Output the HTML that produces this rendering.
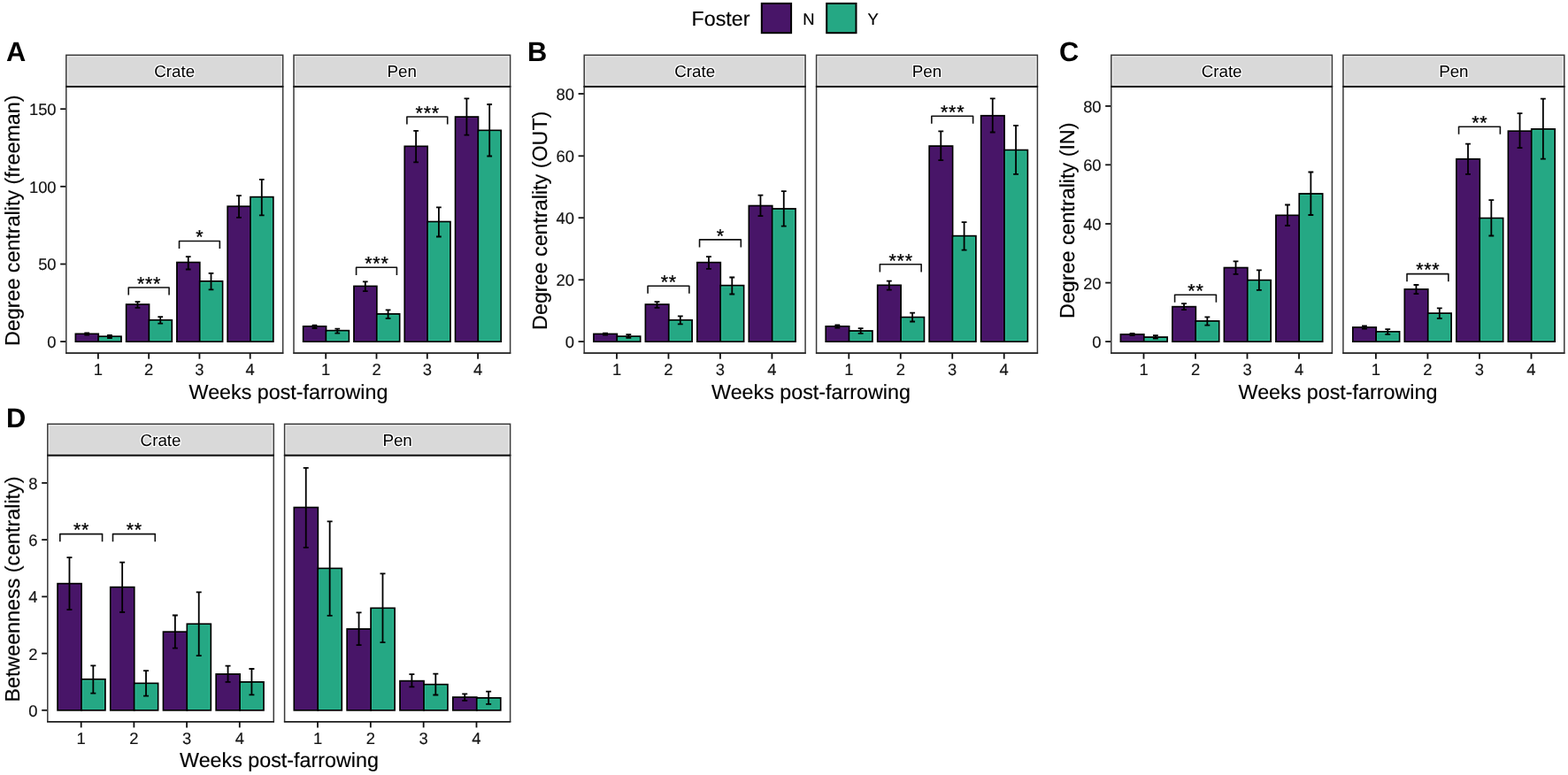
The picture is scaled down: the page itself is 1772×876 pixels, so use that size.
<!DOCTYPE html>
<html lang="en">
<head>
<meta charset="utf-8">
<title>Foster centrality figure</title>
<style>
html,body{margin:0;padding:0;background:#fff;}
body{width:1772px;height:876px;overflow:hidden;}
svg{display:block;}
text{white-space:pre;text-rendering:geometricPrecision;}
</style>
</head>
<body>
<svg width="1772" height="876" viewBox="0 0 1772 876" font-family='"Liberation Sans", sans-serif'>
<rect width="1772" height="876" fill="#ffffff"/>
<g id="legend">
<text x="781.5" y="29.3" font-size="23.3" fill="#000" stroke="#000" stroke-width="0.15">Foster</text>
<rect x="860.8" y="3.9" width="33.3" height="33.3" fill="#481568" stroke="#000" stroke-width="2"/>
<text x="907.3" y="27.8" font-size="18.4" fill="#000" stroke="#000" stroke-width="0.15">N</text>
<rect x="934.2" y="3.9" width="33.3" height="33.3" fill="#25A884" stroke="#000" stroke-width="2"/>
<text x="980.4" y="27.8" font-size="18.4" fill="#000" stroke="#000" stroke-width="0.15">Y</text>
</g>
<g id="panel-A">
<text transform="translate(6.9 68.8) scale(1 1)" font-size="30.8" font-weight="bold" fill="#000">A</text>
<text transform="translate(22 249.25) rotate(-90)" text-anchor="middle" font-size="23.3" fill="#000" stroke="#000" stroke-width="0.15">Degree centrality (freeman)</text>
<line x1="68.2" x2="74.8" y1="386.1" y2="386.1" stroke="#111111" stroke-width="1.8"/>
<text x="63.6" y="393" text-anchor="end" font-size="18.4" fill="#141414" stroke="#141414" stroke-width="0.15">0</text>
<line x1="68.2" x2="74.8" y1="298.5" y2="298.5" stroke="#111111" stroke-width="1.8"/>
<text x="63.6" y="305.4" text-anchor="end" font-size="18.4" fill="#141414" stroke="#141414" stroke-width="0.15">50</text>
<line x1="68.2" x2="74.8" y1="210.8" y2="210.8" stroke="#111111" stroke-width="1.8"/>
<text x="63.6" y="217.7" text-anchor="end" font-size="18.4" fill="#141414" stroke="#141414" stroke-width="0.15">100</text>
<line x1="68.2" x2="74.8" y1="123.2" y2="123.2" stroke="#111111" stroke-width="1.8"/>
<text x="63.6" y="130.1" text-anchor="end" font-size="18.4" fill="#141414" stroke="#141414" stroke-width="0.15">150</text>
<text x="326" y="450.7" text-anchor="middle" font-size="23.3" fill="#000" stroke="#000" stroke-width="0.15">Weeks post-farrowing</text>
<g id="A-Crate">
<rect x="74.8" y="62.3" width="244.9" height="35.2" fill="#d9d9d9" stroke="#3a3a3a" stroke-width="1.5"/>
<rect x="76.4" y="63.9" width="241.7" height="32.1" fill="none" stroke="#ededed" stroke-width="1"/>
<text x="197.25" y="87.05" text-anchor="middle" font-size="18.8" fill="#000" stroke="#fff" stroke-opacity="0.92" stroke-width="2.6" stroke-linejoin="round" paint-order="stroke">Crate</text>
<rect x="74.8" y="97.8" width="244.9" height="301.3" fill="#fff" stroke="none"/>
<rect x="85.43" y="377.4" width="25.77" height="8.7" fill="#481568" stroke="#000" stroke-width="1.8"/>
<rect x="86.88" y="378.85" width="22.87" height="5.8" fill="none" stroke="#541a78" stroke-opacity="0.75" stroke-width="0.9"/>
<rect x="111.2" y="380.3" width="25.77" height="5.8" fill="#25A884" stroke="#000" stroke-width="1.8"/>
<rect x="112.65" y="381.75" width="22.87" height="2.9" fill="none" stroke="#2cc49a" stroke-opacity="0.75" stroke-width="0.9"/>
<rect x="142.7" y="344.1" width="25.77" height="42" fill="#481568" stroke="#000" stroke-width="1.8"/>
<rect x="144.15" y="345.55" width="22.87" height="39.1" fill="none" stroke="#541a78" stroke-opacity="0.75" stroke-width="0.9"/>
<rect x="168.47" y="361.8" width="25.77" height="24.3" fill="#25A884" stroke="#000" stroke-width="1.8"/>
<rect x="169.92" y="363.25" width="22.87" height="21.4" fill="none" stroke="#2cc49a" stroke-opacity="0.75" stroke-width="0.9"/>
<rect x="199.97" y="296.6" width="25.77" height="89.5" fill="#481568" stroke="#000" stroke-width="1.8"/>
<rect x="201.42" y="298.05" width="22.87" height="86.6" fill="none" stroke="#541a78" stroke-opacity="0.75" stroke-width="0.9"/>
<rect x="225.74" y="317.9" width="25.77" height="68.2" fill="#25A884" stroke="#000" stroke-width="1.8"/>
<rect x="227.19" y="319.35" width="22.87" height="65.3" fill="none" stroke="#2cc49a" stroke-opacity="0.75" stroke-width="0.9"/>
<rect x="257.24" y="233.3" width="25.77" height="152.8" fill="#481568" stroke="#000" stroke-width="1.8"/>
<rect x="258.69" y="234.75" width="22.87" height="149.9" fill="none" stroke="#541a78" stroke-opacity="0.75" stroke-width="0.9"/>
<rect x="283.01" y="222.7" width="25.77" height="163.4" fill="#25A884" stroke="#000" stroke-width="1.8"/>
<rect x="284.46" y="224.15" width="22.87" height="160.5" fill="none" stroke="#2cc49a" stroke-opacity="0.75" stroke-width="0.9"/>
<path d="M95.35 376.5H101.08M98.21 376.5V378.7M95.35 378.7H101.08" fill="none" stroke="#000" stroke-width="1.8"/>
<path d="M121.12 379H126.85M123.99 379V382M121.12 382H126.85" fill="none" stroke="#000" stroke-width="1.8"/>
<path d="M152.62 341.1H158.35M155.48 341.1V347.8M152.62 347.8H158.35" fill="none" stroke="#000" stroke-width="1.8"/>
<path d="M178.39 358.2H184.12M181.26 358.2V365.6M178.39 365.6H184.12" fill="none" stroke="#000" stroke-width="1.8"/>
<path d="M209.89 290.1H215.62M212.75 290.1V304.5M209.89 304.5H215.62" fill="none" stroke="#000" stroke-width="1.8"/>
<path d="M235.66 308.9H241.39M238.53 308.9V327.3M235.66 327.3H241.39" fill="none" stroke="#000" stroke-width="1.8"/>
<path d="M267.16 221.1H272.89M270.02 221.1V245.8M267.16 245.8H272.89" fill="none" stroke="#000" stroke-width="1.8"/>
<path d="M292.93 202.9H298.66M295.8 202.9V243.3M292.93 243.3H298.66" fill="none" stroke="#000" stroke-width="1.8"/>
<path d="M145.26 333.6V325H191.08V333.6" fill="none" stroke="#111" stroke-width="1.6" stroke-linejoin="round"/>
<text x="168.57" y="327.7" text-anchor="middle" font-size="21.5" fill="#000" stroke="#000" stroke-width="0.3" letter-spacing="0.75">***</text>
<path d="M202.53 281.1V272.5H248.35V281.1" fill="none" stroke="#111" stroke-width="1.6" stroke-linejoin="round"/>
<text x="225.84" y="275.2" text-anchor="middle" font-size="21.5" fill="#000" stroke="#000" stroke-width="0.3" letter-spacing="0.75">*</text>
<rect x="74.8" y="98.1" width="244.9" height="301" fill="none" stroke="#3a3a3a" stroke-width="1.5"/>
<line x1="74.1" x2="320.4" y1="97.8" y2="97.8" stroke="#181818" stroke-width="1.7"/>
<line x1="74.1" x2="320.4" y1="399.1" y2="399.1" stroke="#1c1c1c" stroke-width="1.4"/>
<line x1="110.9" x2="110.9" y1="399.1" y2="405.7" stroke="#111111" stroke-width="1.8"/>
<text x="110.9" y="423.8" text-anchor="middle" font-size="18.4" fill="#141414" stroke="#141414" stroke-width="0.15">1</text>
<line x1="168.17" x2="168.17" y1="399.1" y2="405.7" stroke="#111111" stroke-width="1.8"/>
<text x="168.17" y="423.8" text-anchor="middle" font-size="18.4" fill="#141414" stroke="#141414" stroke-width="0.15">2</text>
<line x1="225.44" x2="225.44" y1="399.1" y2="405.7" stroke="#111111" stroke-width="1.8"/>
<text x="225.44" y="423.8" text-anchor="middle" font-size="18.4" fill="#141414" stroke="#141414" stroke-width="0.15">3</text>
<line x1="282.71" x2="282.71" y1="399.1" y2="405.7" stroke="#111111" stroke-width="1.8"/>
<text x="282.71" y="423.8" text-anchor="middle" font-size="18.4" fill="#141414" stroke="#141414" stroke-width="0.15">4</text>
</g>
<g id="A-Pen">
<rect x="332" y="62.3" width="244.6" height="35.2" fill="#d9d9d9" stroke="#3a3a3a" stroke-width="1.5"/>
<rect x="333.6" y="63.9" width="241.4" height="32.1" fill="none" stroke="#ededed" stroke-width="1"/>
<text x="454.3" y="87.05" text-anchor="middle" font-size="18.8" fill="#000" stroke="#fff" stroke-opacity="0.92" stroke-width="2.6" stroke-linejoin="round" paint-order="stroke">Pen</text>
<rect x="332" y="97.8" width="244.6" height="301.3" fill="#fff" stroke="none"/>
<rect x="342.71" y="368.9" width="25.79" height="17.2" fill="#481568" stroke="#000" stroke-width="1.8"/>
<rect x="344.16" y="370.35" width="22.89" height="14.3" fill="none" stroke="#541a78" stroke-opacity="0.75" stroke-width="0.9"/>
<rect x="368.5" y="373.7" width="25.79" height="12.4" fill="#25A884" stroke="#000" stroke-width="1.8"/>
<rect x="369.95" y="375.15" width="22.89" height="9.5" fill="none" stroke="#2cc49a" stroke-opacity="0.75" stroke-width="0.9"/>
<rect x="400.01" y="323.5" width="25.79" height="62.6" fill="#481568" stroke="#000" stroke-width="1.8"/>
<rect x="401.46" y="324.95" width="22.89" height="59.7" fill="none" stroke="#541a78" stroke-opacity="0.75" stroke-width="0.9"/>
<rect x="425.8" y="354.9" width="25.79" height="31.2" fill="#25A884" stroke="#000" stroke-width="1.8"/>
<rect x="427.25" y="356.35" width="22.89" height="28.3" fill="none" stroke="#2cc49a" stroke-opacity="0.75" stroke-width="0.9"/>
<rect x="457.31" y="165.4" width="25.79" height="220.7" fill="#481568" stroke="#000" stroke-width="1.8"/>
<rect x="458.76" y="166.85" width="22.89" height="217.8" fill="none" stroke="#541a78" stroke-opacity="0.75" stroke-width="0.9"/>
<rect x="483.1" y="250.6" width="25.79" height="135.5" fill="#25A884" stroke="#000" stroke-width="1.8"/>
<rect x="484.55" y="252.05" width="22.89" height="132.6" fill="none" stroke="#2cc49a" stroke-opacity="0.75" stroke-width="0.9"/>
<rect x="514.61" y="132.1" width="25.79" height="254" fill="#481568" stroke="#000" stroke-width="1.8"/>
<rect x="516.06" y="133.55" width="22.89" height="251.1" fill="none" stroke="#541a78" stroke-opacity="0.75" stroke-width="0.9"/>
<rect x="540.4" y="147.4" width="25.79" height="238.7" fill="#25A884" stroke="#000" stroke-width="1.8"/>
<rect x="541.85" y="148.85" width="22.89" height="235.8" fill="none" stroke="#2cc49a" stroke-opacity="0.75" stroke-width="0.9"/>
<path d="M352.64 367.7H358.37M355.51 367.7V371M352.64 371H358.37" fill="none" stroke="#000" stroke-width="1.8"/>
<path d="M378.43 371.6H384.16M381.29 371.6V376.6M378.43 376.6H384.16" fill="none" stroke="#000" stroke-width="1.8"/>
<path d="M409.94 318.4H415.67M412.81 318.4V329.1M409.94 329.1H415.67" fill="none" stroke="#000" stroke-width="1.8"/>
<path d="M435.73 350.3H441.46M438.59 350.3V359.9M435.73 359.9H441.46" fill="none" stroke="#000" stroke-width="1.8"/>
<path d="M467.24 147.9H472.97M470.11 147.9V183.4M467.24 183.4H472.97" fill="none" stroke="#000" stroke-width="1.8"/>
<path d="M493.03 234.3H498.76M495.89 234.3V267.5M493.03 267.5H498.76" fill="none" stroke="#000" stroke-width="1.8"/>
<path d="M524.54 111.4H530.27M527.41 111.4V152.6M524.54 152.6H530.27" fill="none" stroke="#000" stroke-width="1.8"/>
<path d="M550.33 118H556.06M553.19 118V176.5M550.33 176.5H556.06" fill="none" stroke="#000" stroke-width="1.8"/>
<path d="M402.58 310.9V302.3H448.42V310.9" fill="none" stroke="#111" stroke-width="1.6" stroke-linejoin="round"/>
<text x="425.9" y="305" text-anchor="middle" font-size="21.5" fill="#000" stroke="#000" stroke-width="0.3" letter-spacing="0.75">***</text>
<path d="M459.88 140.6V132H505.72V140.6" fill="none" stroke="#111" stroke-width="1.6" stroke-linejoin="round"/>
<text x="483.2" y="134.7" text-anchor="middle" font-size="21.5" fill="#000" stroke="#000" stroke-width="0.3" letter-spacing="0.75">***</text>
<rect x="332" y="98.1" width="244.6" height="301" fill="none" stroke="#3a3a3a" stroke-width="1.5"/>
<line x1="331.3" x2="577.3" y1="97.8" y2="97.8" stroke="#181818" stroke-width="1.7"/>
<line x1="331.3" x2="577.3" y1="399.1" y2="399.1" stroke="#1c1c1c" stroke-width="1.4"/>
<line x1="368.2" x2="368.2" y1="399.1" y2="405.7" stroke="#111111" stroke-width="1.8"/>
<text x="368.2" y="423.8" text-anchor="middle" font-size="18.4" fill="#141414" stroke="#141414" stroke-width="0.15">1</text>
<line x1="425.5" x2="425.5" y1="399.1" y2="405.7" stroke="#111111" stroke-width="1.8"/>
<text x="425.5" y="423.8" text-anchor="middle" font-size="18.4" fill="#141414" stroke="#141414" stroke-width="0.15">2</text>
<line x1="482.8" x2="482.8" y1="399.1" y2="405.7" stroke="#111111" stroke-width="1.8"/>
<text x="482.8" y="423.8" text-anchor="middle" font-size="18.4" fill="#141414" stroke="#141414" stroke-width="0.15">3</text>
<line x1="540.1" x2="540.1" y1="399.1" y2="405.7" stroke="#111111" stroke-width="1.8"/>
<text x="540.1" y="423.8" text-anchor="middle" font-size="18.4" fill="#141414" stroke="#141414" stroke-width="0.15">4</text>
</g>
</g>
<g id="panel-B">
<text transform="translate(596 68.6) scale(1 1)" font-size="30.8" font-weight="bold" fill="#000">B</text>
<text transform="translate(617.6 249.25) rotate(-90)" text-anchor="middle" font-size="23.3" fill="#000" stroke="#000" stroke-width="0.15">Degree centrality (OUT)</text>
<line x1="653.6" x2="660.2" y1="386.1" y2="386.1" stroke="#111111" stroke-width="1.8"/>
<text x="649" y="393" text-anchor="end" font-size="18.4" fill="#141414" stroke="#141414" stroke-width="0.15">0</text>
<line x1="653.6" x2="660.2" y1="316.3" y2="316.3" stroke="#111111" stroke-width="1.8"/>
<text x="649" y="323.2" text-anchor="end" font-size="18.4" fill="#141414" stroke="#141414" stroke-width="0.15">20</text>
<line x1="653.6" x2="660.2" y1="246.2" y2="246.2" stroke="#111111" stroke-width="1.8"/>
<text x="649" y="253.1" text-anchor="end" font-size="18.4" fill="#141414" stroke="#141414" stroke-width="0.15">40</text>
<line x1="653.6" x2="660.2" y1="176.3" y2="176.3" stroke="#111111" stroke-width="1.8"/>
<text x="649" y="183.2" text-anchor="end" font-size="18.4" fill="#141414" stroke="#141414" stroke-width="0.15">60</text>
<line x1="653.6" x2="660.2" y1="106" y2="106" stroke="#111111" stroke-width="1.8"/>
<text x="649" y="112.9" text-anchor="end" font-size="18.4" fill="#141414" stroke="#141414" stroke-width="0.15">80</text>
<text x="916.5" y="450.7" text-anchor="middle" font-size="23.3" fill="#000" stroke="#000" stroke-width="0.15">Weeks post-farrowing</text>
<g id="B-Crate">
<rect x="660.2" y="62.3" width="249.9" height="35.2" fill="#d9d9d9" stroke="#3a3a3a" stroke-width="1.5"/>
<rect x="661.8" y="63.9" width="246.7" height="32.1" fill="none" stroke="#ededed" stroke-width="1"/>
<text x="785.15" y="87.05" text-anchor="middle" font-size="18.8" fill="#000" stroke="#fff" stroke-opacity="0.92" stroke-width="2.6" stroke-linejoin="round" paint-order="stroke">Crate</text>
<rect x="660.2" y="97.8" width="249.9" height="301.3" fill="#fff" stroke="none"/>
<rect x="670.99" y="377.5" width="26.31" height="8.6" fill="#481568" stroke="#000" stroke-width="1.8"/>
<rect x="672.44" y="378.95" width="23.41" height="5.7" fill="none" stroke="#541a78" stroke-opacity="0.75" stroke-width="0.9"/>
<rect x="697.3" y="380.2" width="26.31" height="5.9" fill="#25A884" stroke="#000" stroke-width="1.8"/>
<rect x="698.75" y="381.65" width="23.41" height="3" fill="none" stroke="#2cc49a" stroke-opacity="0.75" stroke-width="0.9"/>
<rect x="729.46" y="344.1" width="26.31" height="42" fill="#481568" stroke="#000" stroke-width="1.8"/>
<rect x="730.91" y="345.55" width="23.41" height="39.1" fill="none" stroke="#541a78" stroke-opacity="0.75" stroke-width="0.9"/>
<rect x="755.77" y="361.8" width="26.31" height="24.3" fill="#25A884" stroke="#000" stroke-width="1.8"/>
<rect x="757.22" y="363.25" width="23.41" height="21.4" fill="none" stroke="#2cc49a" stroke-opacity="0.75" stroke-width="0.9"/>
<rect x="787.93" y="296.7" width="26.31" height="89.4" fill="#481568" stroke="#000" stroke-width="1.8"/>
<rect x="789.38" y="298.15" width="23.41" height="86.5" fill="none" stroke="#541a78" stroke-opacity="0.75" stroke-width="0.9"/>
<rect x="814.24" y="322.7" width="26.31" height="63.4" fill="#25A884" stroke="#000" stroke-width="1.8"/>
<rect x="815.69" y="324.15" width="23.41" height="60.5" fill="none" stroke="#2cc49a" stroke-opacity="0.75" stroke-width="0.9"/>
<rect x="846.4" y="232.6" width="26.31" height="153.5" fill="#481568" stroke="#000" stroke-width="1.8"/>
<rect x="847.85" y="234.05" width="23.41" height="150.6" fill="none" stroke="#541a78" stroke-opacity="0.75" stroke-width="0.9"/>
<rect x="872.71" y="236" width="26.31" height="150.1" fill="#25A884" stroke="#000" stroke-width="1.8"/>
<rect x="874.16" y="237.45" width="23.41" height="147.2" fill="none" stroke="#2cc49a" stroke-opacity="0.75" stroke-width="0.9"/>
<path d="M681.12 376.7H686.97M684.04 376.7V378.6M681.12 378.6H686.97" fill="none" stroke="#000" stroke-width="1.8"/>
<path d="M707.43 378.1H713.28M710.36 378.1V381.8M707.43 381.8H713.28" fill="none" stroke="#000" stroke-width="1.8"/>
<path d="M739.59 341.1H745.44M742.51 341.1V347.8M739.59 347.8H745.44" fill="none" stroke="#000" stroke-width="1.8"/>
<path d="M765.9 357.3H771.75M768.83 357.3V366.4M765.9 366.4H771.75" fill="none" stroke="#000" stroke-width="1.8"/>
<path d="M798.06 290.1H803.91M800.98 290.1V303.8M798.06 303.8H803.91" fill="none" stroke="#000" stroke-width="1.8"/>
<path d="M824.37 313.5H830.22M827.3 313.5V332.5M824.37 332.5H830.22" fill="none" stroke="#000" stroke-width="1.8"/>
<path d="M856.53 220.7H862.38M859.45 220.7V244.2M856.53 244.2H862.38" fill="none" stroke="#000" stroke-width="1.8"/>
<path d="M882.84 216.1H888.69M885.77 216.1V255.6M882.84 255.6H888.69" fill="none" stroke="#000" stroke-width="1.8"/>
<path d="M732.08 331.8V323.2H778.86V331.8" fill="none" stroke="#111" stroke-width="1.6" stroke-linejoin="round"/>
<text x="755.87" y="325.9" text-anchor="middle" font-size="21.5" fill="#000" stroke="#000" stroke-width="0.3" letter-spacing="0.75">**</text>
<path d="M790.55 279.5V270.9H837.33V279.5" fill="none" stroke="#111" stroke-width="1.6" stroke-linejoin="round"/>
<text x="814.34" y="273.6" text-anchor="middle" font-size="21.5" fill="#000" stroke="#000" stroke-width="0.3" letter-spacing="0.75">*</text>
<rect x="660.2" y="98.1" width="249.9" height="301" fill="none" stroke="#3a3a3a" stroke-width="1.5"/>
<line x1="659.5" x2="910.8" y1="97.8" y2="97.8" stroke="#181818" stroke-width="1.7"/>
<line x1="659.5" x2="910.8" y1="399.1" y2="399.1" stroke="#1c1c1c" stroke-width="1.4"/>
<line x1="697" x2="697" y1="399.1" y2="405.7" stroke="#111111" stroke-width="1.8"/>
<text x="697" y="423.8" text-anchor="middle" font-size="18.4" fill="#141414" stroke="#141414" stroke-width="0.15">1</text>
<line x1="755.47" x2="755.47" y1="399.1" y2="405.7" stroke="#111111" stroke-width="1.8"/>
<text x="755.47" y="423.8" text-anchor="middle" font-size="18.4" fill="#141414" stroke="#141414" stroke-width="0.15">2</text>
<line x1="813.94" x2="813.94" y1="399.1" y2="405.7" stroke="#111111" stroke-width="1.8"/>
<text x="813.94" y="423.8" text-anchor="middle" font-size="18.4" fill="#141414" stroke="#141414" stroke-width="0.15">3</text>
<line x1="872.41" x2="872.41" y1="399.1" y2="405.7" stroke="#111111" stroke-width="1.8"/>
<text x="872.41" y="423.8" text-anchor="middle" font-size="18.4" fill="#141414" stroke="#141414" stroke-width="0.15">4</text>
</g>
<g id="B-Pen">
<rect x="922.6" y="62.3" width="249.8" height="35.2" fill="#d9d9d9" stroke="#3a3a3a" stroke-width="1.5"/>
<rect x="924.2" y="63.9" width="246.6" height="32.1" fill="none" stroke="#ededed" stroke-width="1"/>
<text x="1047.5" y="87.05" text-anchor="middle" font-size="18.8" fill="#000" stroke="#fff" stroke-opacity="0.92" stroke-width="2.6" stroke-linejoin="round" paint-order="stroke">Pen</text>
<rect x="922.6" y="97.8" width="249.8" height="301.3" fill="#fff" stroke="none"/>
<rect x="933.29" y="368.9" width="26.31" height="17.2" fill="#481568" stroke="#000" stroke-width="1.8"/>
<rect x="934.74" y="370.35" width="23.41" height="14.3" fill="none" stroke="#541a78" stroke-opacity="0.75" stroke-width="0.9"/>
<rect x="959.6" y="374" width="26.31" height="12.1" fill="#25A884" stroke="#000" stroke-width="1.8"/>
<rect x="961.05" y="375.45" width="23.41" height="9.2" fill="none" stroke="#2cc49a" stroke-opacity="0.75" stroke-width="0.9"/>
<rect x="991.76" y="322.4" width="26.31" height="63.7" fill="#481568" stroke="#000" stroke-width="1.8"/>
<rect x="993.21" y="323.85" width="23.41" height="60.8" fill="none" stroke="#541a78" stroke-opacity="0.75" stroke-width="0.9"/>
<rect x="1018.07" y="358.6" width="26.31" height="27.5" fill="#25A884" stroke="#000" stroke-width="1.8"/>
<rect x="1019.52" y="360.05" width="23.41" height="24.6" fill="none" stroke="#2cc49a" stroke-opacity="0.75" stroke-width="0.9"/>
<rect x="1050.23" y="165.1" width="26.31" height="221" fill="#481568" stroke="#000" stroke-width="1.8"/>
<rect x="1051.68" y="166.55" width="23.41" height="218.1" fill="none" stroke="#541a78" stroke-opacity="0.75" stroke-width="0.9"/>
<rect x="1076.54" y="266.7" width="26.31" height="119.4" fill="#25A884" stroke="#000" stroke-width="1.8"/>
<rect x="1077.99" y="268.15" width="23.41" height="116.5" fill="none" stroke="#2cc49a" stroke-opacity="0.75" stroke-width="0.9"/>
<rect x="1108.7" y="130.8" width="26.31" height="255.3" fill="#481568" stroke="#000" stroke-width="1.8"/>
<rect x="1110.15" y="132.25" width="23.41" height="252.4" fill="none" stroke="#541a78" stroke-opacity="0.75" stroke-width="0.9"/>
<rect x="1135.01" y="169.6" width="26.31" height="216.5" fill="#25A884" stroke="#000" stroke-width="1.8"/>
<rect x="1136.46" y="171.05" width="23.41" height="213.6" fill="none" stroke="#2cc49a" stroke-opacity="0.75" stroke-width="0.9"/>
<path d="M943.42 367.4H949.27M946.34 367.4V370.7M943.42 370.7H949.27" fill="none" stroke="#000" stroke-width="1.8"/>
<path d="M969.73 371.1H975.58M972.66 371.1V376.9M969.73 376.9H975.58" fill="none" stroke="#000" stroke-width="1.8"/>
<path d="M1001.89 317.6H1007.74M1004.81 317.6V327.6M1001.89 327.6H1007.74" fill="none" stroke="#000" stroke-width="1.8"/>
<path d="M1028.2 353.7H1034.05M1031.13 353.7V363.5M1028.2 363.5H1034.05" fill="none" stroke="#000" stroke-width="1.8"/>
<path d="M1060.36 148.4H1066.21M1063.28 148.4V181.1M1060.36 181.1H1066.21" fill="none" stroke="#000" stroke-width="1.8"/>
<path d="M1086.67 251.1H1092.52M1089.6 251.1V282.7M1086.67 282.7H1092.52" fill="none" stroke="#000" stroke-width="1.8"/>
<path d="M1118.83 111.4H1124.68M1121.75 111.4V149.5M1118.83 149.5H1124.68" fill="none" stroke="#000" stroke-width="1.8"/>
<path d="M1145.14 141.9H1150.99M1148.07 141.9V196.8M1145.14 196.8H1150.99" fill="none" stroke="#000" stroke-width="1.8"/>
<path d="M994.38 307.4V298.8H1041.16V307.4" fill="none" stroke="#111" stroke-width="1.6" stroke-linejoin="round"/>
<text x="1018.17" y="301.5" text-anchor="middle" font-size="21.5" fill="#000" stroke="#000" stroke-width="0.3" letter-spacing="0.75">***</text>
<path d="M1052.85 139.8V131.2H1099.63V139.8" fill="none" stroke="#111" stroke-width="1.6" stroke-linejoin="round"/>
<text x="1076.64" y="133.9" text-anchor="middle" font-size="21.5" fill="#000" stroke="#000" stroke-width="0.3" letter-spacing="0.75">***</text>
<rect x="922.6" y="98.1" width="249.8" height="301" fill="none" stroke="#3a3a3a" stroke-width="1.5"/>
<line x1="921.9" x2="1173.1" y1="97.8" y2="97.8" stroke="#181818" stroke-width="1.7"/>
<line x1="921.9" x2="1173.1" y1="399.1" y2="399.1" stroke="#1c1c1c" stroke-width="1.4"/>
<line x1="959.3" x2="959.3" y1="399.1" y2="405.7" stroke="#111111" stroke-width="1.8"/>
<text x="959.3" y="423.8" text-anchor="middle" font-size="18.4" fill="#141414" stroke="#141414" stroke-width="0.15">1</text>
<line x1="1017.77" x2="1017.77" y1="399.1" y2="405.7" stroke="#111111" stroke-width="1.8"/>
<text x="1017.77" y="423.8" text-anchor="middle" font-size="18.4" fill="#141414" stroke="#141414" stroke-width="0.15">2</text>
<line x1="1076.24" x2="1076.24" y1="399.1" y2="405.7" stroke="#111111" stroke-width="1.8"/>
<text x="1076.24" y="423.8" text-anchor="middle" font-size="18.4" fill="#141414" stroke="#141414" stroke-width="0.15">3</text>
<line x1="1134.71" x2="1134.71" y1="399.1" y2="405.7" stroke="#111111" stroke-width="1.8"/>
<text x="1134.71" y="423.8" text-anchor="middle" font-size="18.4" fill="#141414" stroke="#141414" stroke-width="0.15">4</text>
</g>
</g>
<g id="panel-C">
<text transform="translate(1196.9 69.1) scale(1 1)" font-size="30.8" font-weight="bold" fill="#000">C</text>
<text transform="translate(1213.6 249.25) rotate(-90)" text-anchor="middle" font-size="23.3" fill="#000" stroke="#000" stroke-width="0.15">Degree centrality (IN)</text>
<line x1="1249.2" x2="1255.8" y1="386.1" y2="386.1" stroke="#111111" stroke-width="1.8"/>
<text x="1244.6" y="393" text-anchor="end" font-size="18.4" fill="#141414" stroke="#141414" stroke-width="0.15">0</text>
<line x1="1249.2" x2="1255.8" y1="319.6" y2="319.6" stroke="#111111" stroke-width="1.8"/>
<text x="1244.6" y="326.5" text-anchor="end" font-size="18.4" fill="#141414" stroke="#141414" stroke-width="0.15">20</text>
<line x1="1249.2" x2="1255.8" y1="253" y2="253" stroke="#111111" stroke-width="1.8"/>
<text x="1244.6" y="259.9" text-anchor="end" font-size="18.4" fill="#141414" stroke="#141414" stroke-width="0.15">40</text>
<line x1="1249.2" x2="1255.8" y1="186.3" y2="186.3" stroke="#111111" stroke-width="1.8"/>
<text x="1244.6" y="193.2" text-anchor="end" font-size="18.4" fill="#141414" stroke="#141414" stroke-width="0.15">60</text>
<line x1="1249.2" x2="1255.8" y1="119.9" y2="119.9" stroke="#111111" stroke-width="1.8"/>
<text x="1244.6" y="126.8" text-anchor="end" font-size="18.4" fill="#141414" stroke="#141414" stroke-width="0.15">80</text>
<text x="1512" y="450.7" text-anchor="middle" font-size="23.3" fill="#000" stroke="#000" stroke-width="0.15">Weeks post-farrowing</text>
<g id="C-Crate">
<rect x="1255.8" y="62.3" width="249.6" height="35.2" fill="#d9d9d9" stroke="#3a3a3a" stroke-width="1.5"/>
<rect x="1257.4" y="63.9" width="246.4" height="32.1" fill="none" stroke="#ededed" stroke-width="1"/>
<text x="1380.6" y="87.05" text-anchor="middle" font-size="18.8" fill="#000" stroke="#fff" stroke-opacity="0.92" stroke-width="2.6" stroke-linejoin="round" paint-order="stroke">Crate</text>
<rect x="1255.8" y="97.8" width="249.6" height="301.3" fill="#fff" stroke="none"/>
<rect x="1266.47" y="378" width="26.32" height="8.1" fill="#481568" stroke="#000" stroke-width="1.8"/>
<rect x="1267.92" y="379.45" width="23.43" height="5.2" fill="none" stroke="#541a78" stroke-opacity="0.75" stroke-width="0.9"/>
<rect x="1292.8" y="381.1" width="26.32" height="5" fill="#25A884" stroke="#000" stroke-width="1.8"/>
<rect x="1294.25" y="382.55" width="23.43" height="2.1" fill="none" stroke="#2cc49a" stroke-opacity="0.75" stroke-width="0.9"/>
<rect x="1324.97" y="346.7" width="26.32" height="39.4" fill="#481568" stroke="#000" stroke-width="1.8"/>
<rect x="1326.42" y="348.15" width="23.43" height="36.5" fill="none" stroke="#541a78" stroke-opacity="0.75" stroke-width="0.9"/>
<rect x="1351.3" y="362.9" width="26.32" height="23.2" fill="#25A884" stroke="#000" stroke-width="1.8"/>
<rect x="1352.75" y="364.35" width="23.43" height="20.3" fill="none" stroke="#2cc49a" stroke-opacity="0.75" stroke-width="0.9"/>
<rect x="1383.47" y="302.6" width="26.32" height="83.5" fill="#481568" stroke="#000" stroke-width="1.8"/>
<rect x="1384.92" y="304.05" width="23.43" height="80.6" fill="none" stroke="#541a78" stroke-opacity="0.75" stroke-width="0.9"/>
<rect x="1409.8" y="316.7" width="26.32" height="69.4" fill="#25A884" stroke="#000" stroke-width="1.8"/>
<rect x="1411.25" y="318.15" width="23.43" height="66.5" fill="none" stroke="#2cc49a" stroke-opacity="0.75" stroke-width="0.9"/>
<rect x="1441.97" y="243.4" width="26.32" height="142.7" fill="#481568" stroke="#000" stroke-width="1.8"/>
<rect x="1443.42" y="244.85" width="23.43" height="139.8" fill="none" stroke="#541a78" stroke-opacity="0.75" stroke-width="0.9"/>
<rect x="1468.3" y="219" width="26.32" height="167.1" fill="#25A884" stroke="#000" stroke-width="1.8"/>
<rect x="1469.75" y="220.45" width="23.43" height="164.2" fill="none" stroke="#2cc49a" stroke-opacity="0.75" stroke-width="0.9"/>
<path d="M1276.61 377H1282.46M1279.54 377V379.2M1276.61 379.2H1282.46" fill="none" stroke="#000" stroke-width="1.8"/>
<path d="M1302.94 379.1H1308.79M1305.86 379.1V382.7M1302.94 382.7H1308.79" fill="none" stroke="#000" stroke-width="1.8"/>
<path d="M1335.11 343.1H1340.96M1338.04 343.1V350.2M1335.11 350.2H1340.96" fill="none" stroke="#000" stroke-width="1.8"/>
<path d="M1361.44 358.3H1367.29M1364.36 358.3V367.6M1361.44 367.6H1367.29" fill="none" stroke="#000" stroke-width="1.8"/>
<path d="M1393.61 295.3H1399.46M1396.54 295.3V309.9M1393.61 309.9H1399.46" fill="none" stroke="#000" stroke-width="1.8"/>
<path d="M1419.94 305.3H1425.79M1422.86 305.3V327.9M1419.94 327.9H1425.79" fill="none" stroke="#000" stroke-width="1.8"/>
<path d="M1452.11 231.5H1457.96M1455.04 231.5V255M1452.11 255H1457.96" fill="none" stroke="#000" stroke-width="1.8"/>
<path d="M1478.44 194.5H1484.29M1481.36 194.5V243M1478.44 243H1484.29" fill="none" stroke="#000" stroke-width="1.8"/>
<path d="M1327.6 341.8V333.2H1374.4V341.8" fill="none" stroke="#111" stroke-width="1.6" stroke-linejoin="round"/>
<text x="1351.4" y="335.9" text-anchor="middle" font-size="21.5" fill="#000" stroke="#000" stroke-width="0.3" letter-spacing="0.75">**</text>
<rect x="1255.8" y="98.1" width="249.6" height="301" fill="none" stroke="#3a3a3a" stroke-width="1.5"/>
<line x1="1255.1" x2="1506.1" y1="97.8" y2="97.8" stroke="#181818" stroke-width="1.7"/>
<line x1="1255.1" x2="1506.1" y1="399.1" y2="399.1" stroke="#1c1c1c" stroke-width="1.4"/>
<line x1="1292.5" x2="1292.5" y1="399.1" y2="405.7" stroke="#111111" stroke-width="1.8"/>
<text x="1292.5" y="423.8" text-anchor="middle" font-size="18.4" fill="#141414" stroke="#141414" stroke-width="0.15">1</text>
<line x1="1351" x2="1351" y1="399.1" y2="405.7" stroke="#111111" stroke-width="1.8"/>
<text x="1351" y="423.8" text-anchor="middle" font-size="18.4" fill="#141414" stroke="#141414" stroke-width="0.15">2</text>
<line x1="1409.5" x2="1409.5" y1="399.1" y2="405.7" stroke="#111111" stroke-width="1.8"/>
<text x="1409.5" y="423.8" text-anchor="middle" font-size="18.4" fill="#141414" stroke="#141414" stroke-width="0.15">3</text>
<line x1="1468" x2="1468" y1="399.1" y2="405.7" stroke="#111111" stroke-width="1.8"/>
<text x="1468" y="423.8" text-anchor="middle" font-size="18.4" fill="#141414" stroke="#141414" stroke-width="0.15">4</text>
</g>
<g id="C-Pen">
<rect x="1517.9" y="62.3" width="249.9" height="35.2" fill="#d9d9d9" stroke="#3a3a3a" stroke-width="1.5"/>
<rect x="1519.5" y="63.9" width="246.7" height="32.1" fill="none" stroke="#ededed" stroke-width="1"/>
<text x="1642.85" y="87.05" text-anchor="middle" font-size="18.8" fill="#000" stroke="#fff" stroke-opacity="0.92" stroke-width="2.6" stroke-linejoin="round" paint-order="stroke">Pen</text>
<rect x="1517.9" y="97.8" width="249.9" height="301.3" fill="#fff" stroke="none"/>
<rect x="1528.86" y="370" width="26.34" height="16.1" fill="#481568" stroke="#000" stroke-width="1.8"/>
<rect x="1530.31" y="371.45" width="23.44" height="13.2" fill="none" stroke="#541a78" stroke-opacity="0.75" stroke-width="0.9"/>
<rect x="1555.2" y="374.9" width="26.34" height="11.2" fill="#25A884" stroke="#000" stroke-width="1.8"/>
<rect x="1556.65" y="376.35" width="23.44" height="8.3" fill="none" stroke="#2cc49a" stroke-opacity="0.75" stroke-width="0.9"/>
<rect x="1587.39" y="327" width="26.34" height="59.1" fill="#481568" stroke="#000" stroke-width="1.8"/>
<rect x="1588.84" y="328.45" width="23.44" height="56.2" fill="none" stroke="#541a78" stroke-opacity="0.75" stroke-width="0.9"/>
<rect x="1613.73" y="354.1" width="26.34" height="32" fill="#25A884" stroke="#000" stroke-width="1.8"/>
<rect x="1615.18" y="355.55" width="23.44" height="29.1" fill="none" stroke="#2cc49a" stroke-opacity="0.75" stroke-width="0.9"/>
<rect x="1645.92" y="179.8" width="26.34" height="206.3" fill="#481568" stroke="#000" stroke-width="1.8"/>
<rect x="1647.37" y="181.25" width="23.44" height="203.4" fill="none" stroke="#541a78" stroke-opacity="0.75" stroke-width="0.9"/>
<rect x="1672.26" y="246.6" width="26.34" height="139.5" fill="#25A884" stroke="#000" stroke-width="1.8"/>
<rect x="1673.71" y="248.05" width="23.44" height="136.6" fill="none" stroke="#2cc49a" stroke-opacity="0.75" stroke-width="0.9"/>
<rect x="1704.45" y="148.2" width="26.34" height="237.9" fill="#481568" stroke="#000" stroke-width="1.8"/>
<rect x="1705.9" y="149.65" width="23.44" height="235" fill="none" stroke="#541a78" stroke-opacity="0.75" stroke-width="0.9"/>
<rect x="1730.79" y="145.9" width="26.34" height="240.2" fill="#25A884" stroke="#000" stroke-width="1.8"/>
<rect x="1732.24" y="147.35" width="23.44" height="237.3" fill="none" stroke="#2cc49a" stroke-opacity="0.75" stroke-width="0.9"/>
<path d="M1539 368.3H1544.86M1541.93 368.3V371.6M1539 371.6H1544.86" fill="none" stroke="#000" stroke-width="1.8"/>
<path d="M1565.34 372.2H1571.2M1568.27 372.2V377.8M1565.34 377.8H1571.2" fill="none" stroke="#000" stroke-width="1.8"/>
<path d="M1597.53 322H1603.39M1600.46 322V332.2M1597.53 332.2H1603.39" fill="none" stroke="#000" stroke-width="1.8"/>
<path d="M1623.87 348.3H1629.73M1626.8 348.3V359.8M1623.87 359.8H1629.73" fill="none" stroke="#000" stroke-width="1.8"/>
<path d="M1656.06 162.7H1661.92M1658.99 162.7V196.8M1656.06 196.8H1661.92" fill="none" stroke="#000" stroke-width="1.8"/>
<path d="M1682.4 226.1H1688.26M1685.33 226.1V266.5M1682.4 266.5H1688.26" fill="none" stroke="#000" stroke-width="1.8"/>
<path d="M1714.59 128.2H1720.45M1717.52 128.2V167.2M1714.59 167.2H1720.45" fill="none" stroke="#000" stroke-width="1.8"/>
<path d="M1740.93 111.7H1746.79M1743.86 111.7V179.6M1740.93 179.6H1746.79" fill="none" stroke="#000" stroke-width="1.8"/>
<path d="M1590.02 318.2V309.6H1636.84V318.2" fill="none" stroke="#111" stroke-width="1.6" stroke-linejoin="round"/>
<text x="1613.83" y="312.3" text-anchor="middle" font-size="21.5" fill="#000" stroke="#000" stroke-width="0.3" letter-spacing="0.75">***</text>
<path d="M1648.55 151.8V143.2H1695.37V151.8" fill="none" stroke="#111" stroke-width="1.6" stroke-linejoin="round"/>
<text x="1672.36" y="145.9" text-anchor="middle" font-size="21.5" fill="#000" stroke="#000" stroke-width="0.3" letter-spacing="0.75">**</text>
<rect x="1517.9" y="98.1" width="249.9" height="301" fill="none" stroke="#3a3a3a" stroke-width="1.5"/>
<line x1="1517.2" x2="1768.5" y1="97.8" y2="97.8" stroke="#181818" stroke-width="1.7"/>
<line x1="1517.2" x2="1768.5" y1="399.1" y2="399.1" stroke="#1c1c1c" stroke-width="1.4"/>
<line x1="1554.9" x2="1554.9" y1="399.1" y2="405.7" stroke="#111111" stroke-width="1.8"/>
<text x="1554.9" y="423.8" text-anchor="middle" font-size="18.4" fill="#141414" stroke="#141414" stroke-width="0.15">1</text>
<line x1="1613.43" x2="1613.43" y1="399.1" y2="405.7" stroke="#111111" stroke-width="1.8"/>
<text x="1613.43" y="423.8" text-anchor="middle" font-size="18.4" fill="#141414" stroke="#141414" stroke-width="0.15">2</text>
<line x1="1671.96" x2="1671.96" y1="399.1" y2="405.7" stroke="#111111" stroke-width="1.8"/>
<text x="1671.96" y="423.8" text-anchor="middle" font-size="18.4" fill="#141414" stroke="#141414" stroke-width="0.15">3</text>
<line x1="1730.49" x2="1730.49" y1="399.1" y2="405.7" stroke="#111111" stroke-width="1.8"/>
<text x="1730.49" y="423.8" text-anchor="middle" font-size="18.4" fill="#141414" stroke="#141414" stroke-width="0.15">4</text>
</g>
</g>
<g id="panel-D">
<text transform="translate(7 483) scale(1 1)" font-size="30.8" font-weight="bold" fill="#000">D</text>
<text transform="translate(22 666.05) rotate(-90)" text-anchor="middle" font-size="23.3" fill="#000" stroke="#000" stroke-width="0.15">Betweenness (centrality)</text>
<line x1="47.2" x2="53.8" y1="802.8" y2="802.8" stroke="#111111" stroke-width="1.8"/>
<text x="42.6" y="809.7" text-anchor="end" font-size="18.4" fill="#141414" stroke="#141414" stroke-width="0.15">0</text>
<line x1="47.2" x2="53.8" y1="738.6" y2="738.6" stroke="#111111" stroke-width="1.8"/>
<text x="42.6" y="745.5" text-anchor="end" font-size="18.4" fill="#141414" stroke="#141414" stroke-width="0.15">2</text>
<line x1="47.2" x2="53.8" y1="674.4" y2="674.4" stroke="#111111" stroke-width="1.8"/>
<text x="42.6" y="681.3" text-anchor="end" font-size="18.4" fill="#141414" stroke="#141414" stroke-width="0.15">4</text>
<line x1="47.2" x2="53.8" y1="610.1" y2="610.1" stroke="#111111" stroke-width="1.8"/>
<text x="42.6" y="617" text-anchor="end" font-size="18.4" fill="#141414" stroke="#141414" stroke-width="0.15">6</text>
<line x1="47.2" x2="53.8" y1="545.9" y2="545.9" stroke="#111111" stroke-width="1.8"/>
<text x="42.6" y="552.8" text-anchor="end" font-size="18.4" fill="#141414" stroke="#141414" stroke-width="0.15">8</text>
<text x="315.5" y="867.4" text-anchor="middle" font-size="23.3" fill="#000" stroke="#000" stroke-width="0.15">Weeks post-farrowing</text>
<g id="D-Crate">
<rect x="53.8" y="479.3" width="255.5" height="35.1" fill="#d9d9d9" stroke="#3a3a3a" stroke-width="1.5"/>
<rect x="55.4" y="480.9" width="252.3" height="32" fill="none" stroke="#ededed" stroke-width="1"/>
<text x="181.55" y="504" text-anchor="middle" font-size="18.8" fill="#000" stroke="#fff" stroke-opacity="0.92" stroke-width="2.6" stroke-linejoin="round" paint-order="stroke">Crate</text>
<rect x="53.8" y="514.7" width="255.5" height="301.1" fill="#fff" stroke="none"/>
<rect x="65.14" y="659.7" width="26.87" height="143.1" fill="#481568" stroke="#000" stroke-width="1.8"/>
<rect x="66.59" y="661.15" width="23.97" height="140.2" fill="none" stroke="#541a78" stroke-opacity="0.75" stroke-width="0.9"/>
<rect x="92" y="767.8" width="26.87" height="35" fill="#25A884" stroke="#000" stroke-width="1.8"/>
<rect x="93.45" y="769.25" width="23.97" height="32.1" fill="none" stroke="#2cc49a" stroke-opacity="0.75" stroke-width="0.9"/>
<rect x="124.83" y="663.7" width="26.87" height="139.1" fill="#481568" stroke="#000" stroke-width="1.8"/>
<rect x="126.28" y="665.15" width="23.97" height="136.2" fill="none" stroke="#541a78" stroke-opacity="0.75" stroke-width="0.9"/>
<rect x="151.7" y="772.4" width="26.87" height="30.4" fill="#25A884" stroke="#000" stroke-width="1.8"/>
<rect x="153.15" y="773.85" width="23.97" height="27.5" fill="none" stroke="#2cc49a" stroke-opacity="0.75" stroke-width="0.9"/>
<rect x="184.54" y="714.2" width="26.87" height="88.6" fill="#481568" stroke="#000" stroke-width="1.8"/>
<rect x="185.99" y="715.65" width="23.97" height="85.7" fill="none" stroke="#541a78" stroke-opacity="0.75" stroke-width="0.9"/>
<rect x="211.4" y="705.3" width="26.87" height="97.5" fill="#25A884" stroke="#000" stroke-width="1.8"/>
<rect x="212.85" y="706.75" width="23.97" height="94.6" fill="none" stroke="#2cc49a" stroke-opacity="0.75" stroke-width="0.9"/>
<rect x="244.24" y="762" width="26.87" height="40.8" fill="#481568" stroke="#000" stroke-width="1.8"/>
<rect x="245.69" y="763.45" width="23.97" height="37.9" fill="none" stroke="#541a78" stroke-opacity="0.75" stroke-width="0.9"/>
<rect x="271.1" y="770.9" width="26.87" height="31.9" fill="#25A884" stroke="#000" stroke-width="1.8"/>
<rect x="272.55" y="772.35" width="23.97" height="29" fill="none" stroke="#2cc49a" stroke-opacity="0.75" stroke-width="0.9"/>
<path d="M75.48 630.1H81.45M78.47 630.1V689.2M75.48 689.2H81.45" fill="none" stroke="#000" stroke-width="1.8"/>
<path d="M102.35 752.3H108.32M105.33 752.3V783.6M102.35 783.6H108.32" fill="none" stroke="#000" stroke-width="1.8"/>
<path d="M135.18 635.7H141.15M138.17 635.7V692M135.18 692H141.15" fill="none" stroke="#000" stroke-width="1.8"/>
<path d="M162.05 758.1H168.02M165.03 758.1V786.6M162.05 786.6H168.02" fill="none" stroke="#000" stroke-width="1.8"/>
<path d="M194.88 695.5H200.85M197.87 695.5V732.6M194.88 732.6H200.85" fill="none" stroke="#000" stroke-width="1.8"/>
<path d="M221.75 669.3H227.72M224.73 669.3V741.1M221.75 741.1H227.72" fill="none" stroke="#000" stroke-width="1.8"/>
<path d="M254.58 752.6H260.55M257.57 752.6V770.8M254.58 770.8H260.55" fill="none" stroke="#000" stroke-width="1.8"/>
<path d="M281.45 756H287.42M284.43 756V785.3M281.45 785.3H287.42" fill="none" stroke="#000" stroke-width="1.8"/>
<path d="M67.82 612.2V603.6H115.58V612.2" fill="none" stroke="#111" stroke-width="1.6" stroke-linejoin="round"/>
<text x="92.1" y="606.3" text-anchor="middle" font-size="21.5" fill="#000" stroke="#000" stroke-width="0.3" letter-spacing="0.75">**</text>
<path d="M127.52 612.2V603.6H175.28V612.2" fill="none" stroke="#111" stroke-width="1.6" stroke-linejoin="round"/>
<text x="151.8" y="606.3" text-anchor="middle" font-size="21.5" fill="#000" stroke="#000" stroke-width="0.3" letter-spacing="0.75">**</text>
<rect x="53.8" y="515" width="255.5" height="300.8" fill="none" stroke="#3a3a3a" stroke-width="1.5"/>
<line x1="53.1" x2="310" y1="514.7" y2="514.7" stroke="#181818" stroke-width="1.7"/>
<line x1="53.1" x2="310" y1="815.8" y2="815.8" stroke="#1c1c1c" stroke-width="1.4"/>
<line x1="91.7" x2="91.7" y1="815.8" y2="822.4" stroke="#111111" stroke-width="1.8"/>
<text x="91.7" y="840.5" text-anchor="middle" font-size="18.4" fill="#141414" stroke="#141414" stroke-width="0.15">1</text>
<line x1="151.4" x2="151.4" y1="815.8" y2="822.4" stroke="#111111" stroke-width="1.8"/>
<text x="151.4" y="840.5" text-anchor="middle" font-size="18.4" fill="#141414" stroke="#141414" stroke-width="0.15">2</text>
<line x1="211.1" x2="211.1" y1="815.8" y2="822.4" stroke="#111111" stroke-width="1.8"/>
<text x="211.1" y="840.5" text-anchor="middle" font-size="18.4" fill="#141414" stroke="#141414" stroke-width="0.15">3</text>
<line x1="270.8" x2="270.8" y1="815.8" y2="822.4" stroke="#111111" stroke-width="1.8"/>
<text x="270.8" y="840.5" text-anchor="middle" font-size="18.4" fill="#141414" stroke="#141414" stroke-width="0.15">4</text>
</g>
<g id="D-Pen">
<rect x="321.6" y="479.3" width="255" height="35.1" fill="#d9d9d9" stroke="#3a3a3a" stroke-width="1.5"/>
<rect x="323.2" y="480.9" width="251.8" height="32" fill="none" stroke="#ededed" stroke-width="1"/>
<text x="449.1" y="504" text-anchor="middle" font-size="18.8" fill="#000" stroke="#fff" stroke-opacity="0.92" stroke-width="2.6" stroke-linejoin="round" paint-order="stroke">Pen</text>
<rect x="321.6" y="514.7" width="255" height="301.1" fill="#fff" stroke="none"/>
<rect x="332.38" y="573.6" width="26.92" height="229.2" fill="#481568" stroke="#000" stroke-width="1.8"/>
<rect x="333.83" y="575.05" width="24.02" height="226.3" fill="none" stroke="#541a78" stroke-opacity="0.75" stroke-width="0.9"/>
<rect x="359.3" y="642.5" width="26.92" height="160.3" fill="#25A884" stroke="#000" stroke-width="1.8"/>
<rect x="360.75" y="643.95" width="24.02" height="157.4" fill="none" stroke="#2cc49a" stroke-opacity="0.75" stroke-width="0.9"/>
<rect x="392.21" y="711" width="26.92" height="91.8" fill="#481568" stroke="#000" stroke-width="1.8"/>
<rect x="393.66" y="712.45" width="24.02" height="88.9" fill="none" stroke="#541a78" stroke-opacity="0.75" stroke-width="0.9"/>
<rect x="419.13" y="687.4" width="26.92" height="115.4" fill="#25A884" stroke="#000" stroke-width="1.8"/>
<rect x="420.58" y="688.85" width="24.02" height="112.5" fill="none" stroke="#2cc49a" stroke-opacity="0.75" stroke-width="0.9"/>
<rect x="452.04" y="769.7" width="26.92" height="33.1" fill="#481568" stroke="#000" stroke-width="1.8"/>
<rect x="453.49" y="771.15" width="24.02" height="30.2" fill="none" stroke="#541a78" stroke-opacity="0.75" stroke-width="0.9"/>
<rect x="478.96" y="773.7" width="26.92" height="29.1" fill="#25A884" stroke="#000" stroke-width="1.8"/>
<rect x="480.41" y="775.15" width="24.02" height="26.2" fill="none" stroke="#2cc49a" stroke-opacity="0.75" stroke-width="0.9"/>
<rect x="511.87" y="788.1" width="26.92" height="14.7" fill="#481568" stroke="#000" stroke-width="1.8"/>
<rect x="513.32" y="789.55" width="24.02" height="11.8" fill="none" stroke="#541a78" stroke-opacity="0.75" stroke-width="0.9"/>
<rect x="538.79" y="788.9" width="26.92" height="13.9" fill="#25A884" stroke="#000" stroke-width="1.8"/>
<rect x="540.24" y="790.35" width="24.02" height="11" fill="none" stroke="#2cc49a" stroke-opacity="0.75" stroke-width="0.9"/>
<path d="M342.75 528.8H348.73M345.74 528.8V618.9M342.75 618.9H348.73" fill="none" stroke="#000" stroke-width="1.8"/>
<path d="M369.67 589.3H375.65M372.66 589.3V695.8M369.67 695.8H375.65" fill="none" stroke="#000" stroke-width="1.8"/>
<path d="M402.58 692.4H408.56M405.57 692.4V729.2M402.58 729.2H408.56" fill="none" stroke="#000" stroke-width="1.8"/>
<path d="M429.5 648.4H435.48M432.49 648.4V726.2M429.5 726.2H435.48" fill="none" stroke="#000" stroke-width="1.8"/>
<path d="M462.41 762.2H468.39M465.4 762.2V776.4M462.41 776.4H468.39" fill="none" stroke="#000" stroke-width="1.8"/>
<path d="M489.33 761.7H495.31M492.32 761.7V785.5M489.33 785.5H495.31" fill="none" stroke="#000" stroke-width="1.8"/>
<path d="M522.24 784.3H528.22M525.23 784.3V791.8M522.24 791.8H528.22" fill="none" stroke="#000" stroke-width="1.8"/>
<path d="M549.16 781.7H555.14M552.15 781.7V795.8M549.16 795.8H555.14" fill="none" stroke="#000" stroke-width="1.8"/>
<rect x="321.6" y="515" width="255" height="300.8" fill="none" stroke="#3a3a3a" stroke-width="1.5"/>
<line x1="320.9" x2="577.3" y1="514.7" y2="514.7" stroke="#181818" stroke-width="1.7"/>
<line x1="320.9" x2="577.3" y1="815.8" y2="815.8" stroke="#1c1c1c" stroke-width="1.4"/>
<line x1="359" x2="359" y1="815.8" y2="822.4" stroke="#111111" stroke-width="1.8"/>
<text x="359" y="840.5" text-anchor="middle" font-size="18.4" fill="#141414" stroke="#141414" stroke-width="0.15">1</text>
<line x1="418.83" x2="418.83" y1="815.8" y2="822.4" stroke="#111111" stroke-width="1.8"/>
<text x="418.83" y="840.5" text-anchor="middle" font-size="18.4" fill="#141414" stroke="#141414" stroke-width="0.15">2</text>
<line x1="478.66" x2="478.66" y1="815.8" y2="822.4" stroke="#111111" stroke-width="1.8"/>
<text x="478.66" y="840.5" text-anchor="middle" font-size="18.4" fill="#141414" stroke="#141414" stroke-width="0.15">3</text>
<line x1="538.49" x2="538.49" y1="815.8" y2="822.4" stroke="#111111" stroke-width="1.8"/>
<text x="538.49" y="840.5" text-anchor="middle" font-size="18.4" fill="#141414" stroke="#141414" stroke-width="0.15">4</text>
</g>
</g>
</svg>
</body>
</html>
